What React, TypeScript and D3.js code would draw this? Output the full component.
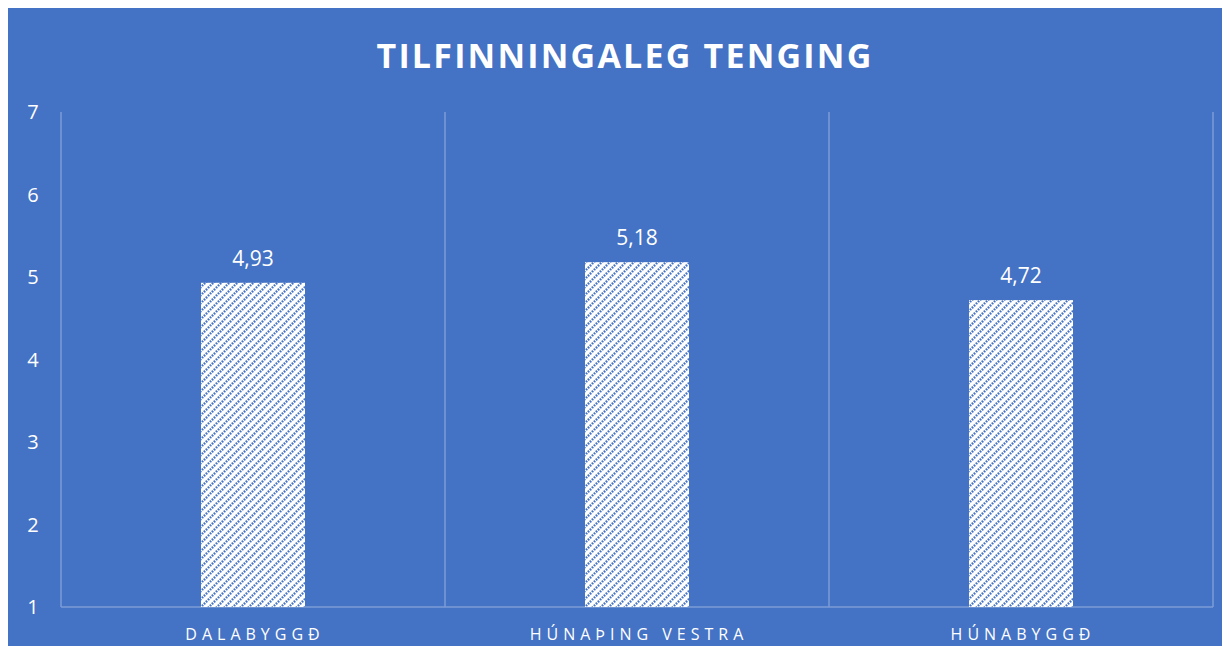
import React from "react";
import * as d3 from "d3";

const categories = ["DALABYGGÐ", "HÚNAÞING VESTRA", "HÚNABYGGÐ"];
const values = [4.93, 5.18, 4.72];
const valueLabels = ["4,93", "5,18", "4,72"];
const yTicks = [1, 2, 3, 4, 5, 6, 7];
const title = "TILFINNINGALEG TENGING";

const W = 1222;
const H = 638;
const BG = "#4472C4";
const GRID = "#7d9dd7";
const FONT = "'Open Sans', sans-serif";

export default function App() {
  const m = { left: 53, right: W - 1205, top: 104, bottom: H - 599 };
  const x = d3
    .scaleBand<string>()
    .domain(categories)
    .range([m.left, W - m.right])
    .paddingInner(0)
    .paddingOuter(0);
  const y = d3.scaleLinear().domain([1, 7]).range([H - m.bottom, m.top]);
  const barW = 104;
  const boundaries = [m.left, ...categories.map((c) => (x(c) as number) + x.bandwidth())];

  return (
    <svg width={W} height={H} style={{ display: "block" }}>
      <defs>
        <pattern id="hatch" patternUnits="userSpaceOnUse" width={8} height={8}>
          <rect width={8} height={8} fill="#ffffff" />
          <path
            d="M-2,2 L2,-2 M0,8 L8,0 M6,10 L10,6"
            stroke={BG}
            strokeWidth={2.4}
            strokeDasharray="1.6 1.2"
          />
        </pattern>
      </defs>
      <rect width={W} height={H} fill={BG} />
      <text
        x={617}
        y={60}
        textAnchor="middle"
        fill="#fff"
        fontFamily={FONT}
        fontWeight={700}
        fontSize={34}
        letterSpacing={2.2}
      >
        {title}
      </text>
      {boundaries.map((bx, i) => (
        <line
          key={"g" + i}
          x1={bx}
          x2={bx}
          y1={y(7)}
          y2={y(1)}
          stroke={GRID}
          strokeWidth={1.5}
        />
      ))}
      <line x1={m.left} x2={W - m.right} y1={y(1)} y2={y(1)} stroke={GRID} strokeWidth={1.5} />
      {yTicks.map((t) => (
        <text
          key={"t" + t}
          x={25}
          y={y(t)}
          dy="0.35em"
          textAnchor="middle"
          fill="#fff"
          fontFamily={FONT}
          fontSize={20}
        >
          {t}
        </text>
      ))}
      {categories.map((c, i) => {
        const cx = (x(c) as number) + x.bandwidth() / 2;
        return (
          <g key={c}>
            <rect
              x={cx - barW / 2}
              y={y(values[i])}
              width={barW}
              height={y(1) - y(values[i])}
              fill="url(#hatch)"
            />
            <text
              x={cx}
              y={y(values[i]) - 17}
              textAnchor="middle"
              fill="#fff"
              fontFamily={FONT}
              fontSize={21}
            >
              {valueLabels[i]}
            </text>
            <text
              x={cx + 2}
              y={632}
              textAnchor="middle"
              fill="#fff"
              fontFamily={FONT}
              fontSize={16}
              letterSpacing={5}
            >
              {c}
            </text>
          </g>
        );
      })}
    </svg>
  );
}
